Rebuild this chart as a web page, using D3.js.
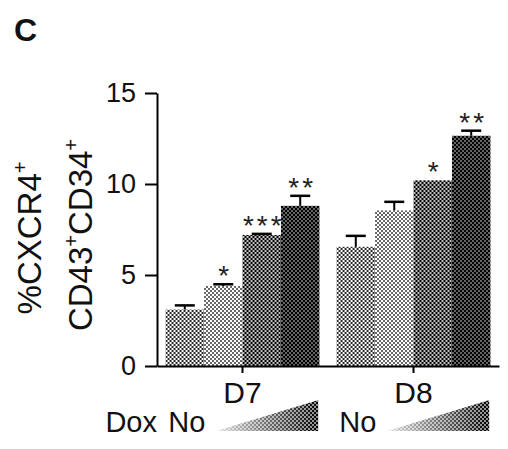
<html>
<head>
<script src="https://d3js.org/d3.v7.min.js"></script>
<style>
  body { margin: 0; background: #fff; }
  svg { font-family: "Liberation Sans", Arial, sans-serif; }
  .axis path, .axis line { stroke: #000; stroke-width: 2; }
  .axis text { fill: #111; }
</style>
</head>
<body>
<div id="chart"></div>
<script>
// groups (days) and Dox levels
var groups = ["D7", "D8"]
var doxLevels = ["No", "low", "mid", "high"]
var d7Values = [3.1, 4.4, 7.2, 8.8]
var d8Values = [6.55, 8.55, 10.2, 12.65]
var d7Errors = [0.23, 0.09, 0.06, 0.55]
var d8Errors = [0.6, 0.47, 0, 0.28]
var d7Stars = ["", "*", "***", "**"]
var d8Stars = ["", "", "*", "**"]
var yTicks = [0, 5, 10, 15]

var width = 508, height = 449

var rows = []
groups.forEach(function(g, gi) {
    var vals = gi == 0 ? d7Values : d8Values
    var errs = gi == 0 ? d7Errors : d8Errors
    var stars = gi == 0 ? d7Stars : d8Stars
    doxLevels.forEach(function(d, i) {
        rows.push({group: g, dox: d, value: vals[i], err: errs[i], star: stars[i]})
    })
})

var svg = d3.select("#chart").append("svg")
    .attr("width", width)
    .attr("height", height)

var defs = svg.append("defs")

// halftone-ish patterns, darkness 0..1
function halftone(id, dark) {
    var p = defs.append("pattern")
        .attr("id", id)
        .attr("patternUnits", "userSpaceOnUse")
        .attr("width", 4).attr("height", 4)
    var bg = dark <= 0.5 ? "#fff" : "#000"
    var fg = dark <= 0.5 ? "#000" : "#fff"
    var s = Math.sqrt((dark <= 0.5 ? dark : 1 - dark) * 8)
    p.append("rect").attr("width", 4).attr("height", 4).attr("fill", bg)
    p.append("rect").attr("x", 1 - s / 2).attr("y", 1 - s / 2).attr("width", s).attr("height", s).attr("fill", fg)
    p.append("rect").attr("x", 3 - s / 2).attr("y", 3 - s / 2).attr("width", s).attr("height", s).attr("fill", fg)
}
var shade = {No: 0.42, low: 0.3, mid: 0.62, high: 0.8}
doxLevels.forEach(function(d) { halftone("ht-" + d, shade[d]) })
halftone("ht-wedge", 0.72)

var grad = defs.append("linearGradient").attr("id", "wedge-grad")
grad.append("stop").attr("offset", "0%").attr("stop-color", "#fff").attr("stop-opacity", 0.12)
grad.append("stop").attr("offset", "100%").attr("stop-color", "#fff").attr("stop-opacity", 1)
defs.append("mask").attr("id", "wedge-mask")
    .attr("maskContentUnits", "objectBoundingBox")
    .append("rect").attr("width", 1).attr("height", 1).attr("fill", "url(#wedge-grad)")

var y = d3.scaleLinear().domain([0, 15]).range([366, 93])
var x0 = d3.scaleBand().domain(groups).range([157, 499]).paddingInner(0.1).paddingOuter(0.05)
var x1 = d3.scaleBand().domain(doxLevels).range([0, x0.bandwidth()])

// bars
var bar = svg.append("g").selectAll("g")
    .data(rows)
    .join("g")
    .attr("transform", d => `translate(${x0(d.group) + x1(d.dox)},0)`)

bar.append("rect")
    .attr("x", 0)
    .attr("y", d => y(d.value))
    .attr("width", x1.bandwidth())
    .attr("height", d => y(0) - y(d.value))
    .attr("fill", d => "url(#ht-" + d.dox + ")")

// error bars (upper only)
var cap = 10
var withErr = bar.filter(d => d.err > 0)
withErr.append("line")
    .attr("x1", x1.bandwidth() / 2).attr("x2", x1.bandwidth() / 2)
    .attr("y1", d => y(d.value)).attr("y2", d => y(d.value + d.err))
    .attr("stroke", "#000").attr("stroke-width", 2)
withErr.append("line")
    .attr("x1", x1.bandwidth() / 2 - cap).attr("x2", x1.bandwidth() / 2 + cap)
    .attr("y1", d => y(d.value + d.err)).attr("y2", d => y(d.value + d.err))
    .attr("stroke", "#000").attr("stroke-width", 2.5)

// significance stars
bar.append("text")
    .attr("x", x1.bandwidth() / 2 + 2)
    .attr("y", d => y(d.value + d.err) + 1)
    .attr("text-anchor", "middle")
    .attr("font-size", 28)
    .attr("letter-spacing", 3)
    .attr("fill", "#222")
    .text(d => d.star)

// axes
var yAxis = svg.append("g").attr("class", "axis")
    .attr("transform", "translate(157,0)")
    .call(d3.axisLeft(y).tickValues(yTicks).tickSize(12).tickSizeOuter(0).tickPadding(9))
yAxis.selectAll("text").attr("font-size", 27)

var xAxis = svg.append("g").attr("class", "axis")
    .attr("transform", "translate(0,366)")
    .call(d3.axisBottom(x0).tickSize(7).tickSizeOuter(0).tickPadding(9))
xAxis.selectAll("text").attr("font-size", 30)

// y label, two lines
var ylab = svg.append("text")
    .attr("transform", "translate(41,238) rotate(-90)")
    .attr("text-anchor", "middle")
    .attr("font-size", 33)
    .attr("fill", "#111")
ylab.append("tspan").text("%CXCR4")
ylab.append("tspan").attr("font-size", 20).attr("dy", -14).text("+")
var ylab2 = svg.append("text")
    .attr("transform", "translate(92,235) rotate(-90)")
    .attr("text-anchor", "middle")
    .attr("font-size", 33)
    .attr("fill", "#111")
ylab2.append("tspan").text("CD43")
ylab2.append("tspan").attr("font-size", 20).attr("dy", -14).text("+")
ylab2.append("tspan").attr("dy", 14).text("CD34")
ylab2.append("tspan").attr("font-size", 20).attr("dy", -14).text("+")

// Dox row below axis
svg.append("text")
    .attr("x", 157).attr("y", 432)
    .attr("text-anchor", "end")
    .attr("font-size", 29)
    .attr("fill", "#111")
    .text("Dox")

groups.forEach(function(g) {
    var gx = x0(g)
    svg.append("text")
        .attr("x", gx + x1("No") + x1.bandwidth() / 2 + 2)
        .attr("y", 432)
        .attr("text-anchor", "middle")
        .attr("font-size", 29)
        .attr("fill", "#111")
        .text("No")
    var left = gx + x1("low") + 12, right = gx + x0.bandwidth() - 1
    svg.append("path")
        .attr("d", `M${left},431L${right},431L${right},400Z`)
        .attr("fill", "url(#ht-wedge)")
        .attr("mask", "url(#wedge-mask)")
})

// panel letter
svg.append("text")
    .attr("x", 14).attr("y", 41)
    .attr("font-size", 32)
    .attr("font-weight", "bold")
    .attr("fill", "#111")
    .text("C")
</script>
</body>
</html>
